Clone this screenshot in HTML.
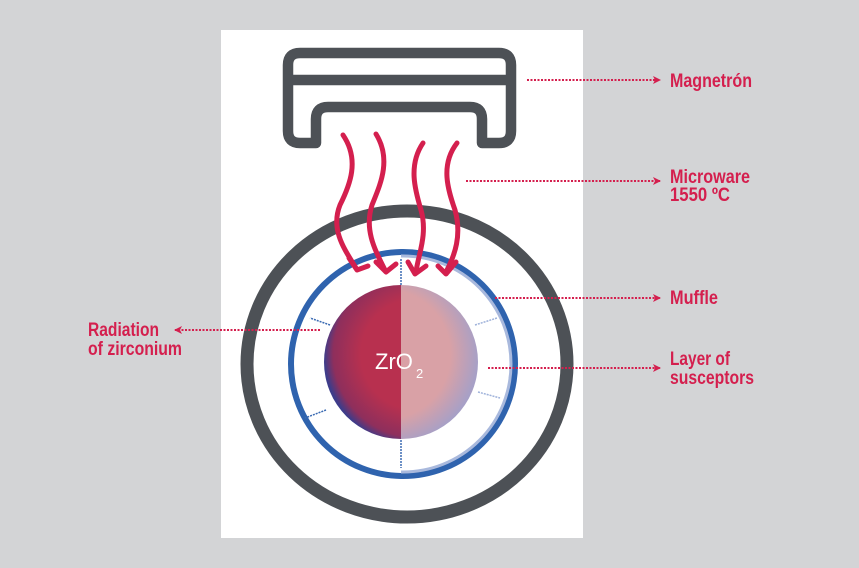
<!DOCTYPE html>
<html><head><meta charset="utf-8"><style>
html,body{margin:0;padding:0;background:#d3d4d6;}
svg{display:block}
text{font-family:"Liberation Sans Narrow","Liberation Sans",sans-serif;fill:#d41f4e;font-size:19px;font-weight:bold}
</style></head><body>
<svg width="859" height="568" viewBox="0 0 859 568" xmlns="http://www.w3.org/2000/svg">
<defs>
<radialGradient id="gl" cx="0.6" cy="0.45" r="0.6">
<stop offset="0.6" stop-color="#b8304f"/><stop offset="0.9" stop-color="#8e2f5c"/><stop offset="1" stop-color="#3d3c8a"/>
</radialGradient>
<radialGradient id="gr" cx="0.4" cy="0.45" r="0.6">
<stop offset="0.7" stop-color="#d9a1a6"/><stop offset="1" stop-color="#a7a0c6"/>
</radialGradient>
<clipPath id="cl"><rect x="0" y="0" width="401" height="568"/></clipPath>
<clipPath id="cr"><rect x="401" y="0" width="458" height="568"/></clipPath>
<marker id="ah" markerWidth="8" markerHeight="8" refX="7" refY="4" orient="auto" markerUnits="userSpaceOnUse"><path d="M0,0 L8,4 L0,8 L2,4 Z" fill="#d41f4e"/></marker>
</defs>
<rect x="221" y="30" width="362" height="508" fill="#fff"/>
<g fill="none" stroke="#4d5156" stroke-width="10.5">
<path d="M316,143 L300,143 Q288,143 288,131 L288,65 Q288,53 300,53 L499,53 Q511,53 511,65 L511,131 Q511,143 499,143 L482,143 L482,119 Q482,107 470,107 L328,107 Q316,107 316,119 Z" stroke-linejoin="round"/>
<line x1="288" y1="80" x2="511" y2="80"/>
</g>
<ellipse cx="407" cy="364" rx="160" ry="153" fill="none" stroke="#4d5156" stroke-width="13"/>
<circle cx="403" cy="364" r="112" fill="none" stroke="#2f63ae" stroke-width="6" clip-path="url(#cl)"/>
<circle cx="403" cy="364" r="112" fill="none" stroke="#2f63ae" stroke-width="6" clip-path="url(#cr)"/>
<circle cx="403" cy="364" r="108" fill="none" stroke="#a9b9dd" stroke-width="3" clip-path="url(#cr)"/>
<circle cx="401" cy="362" r="77" fill="url(#gl)" clip-path="url(#cl)"/>
<circle cx="401" cy="362" r="77" fill="url(#gr)" clip-path="url(#cr)"/>
<text x="375" y="369" style="fill:#fff;font-family:'Liberation Sans',sans-serif;font-size:22px;font-weight:normal">ZrO</text>
<text x="416" y="378" style="fill:#fff;font-family:'Liberation Sans',sans-serif;font-size:13px;font-weight:normal">2</text>
<g stroke="#3b6bb3" stroke-width="1.5" fill="none" stroke-dasharray="2,1">
<path d="M330,325 L310,318"/><path d="M326,410 L305,418"/>
<path d="M401,440 L401,468"/><path d="M401,285 L401,258"/>
<path d="M475,325 L497,318" stroke="#9fb2da"/><path d="M478,392 L500,398" stroke="#9fb2da"/>
</g>
<g fill="none" stroke="#d41f4e" stroke-width="5" stroke-linecap="round" stroke-linejoin="round">
<path d="M343,135 C360,160 350,185 340,205 C330,230 345,250 356,268"/>
<path d="M376,134 C392,160 380,185 372,205 C364,230 375,250 385,270"/>
<path d="M423,143 C408,165 415,190 421,210 C428,235 418,255 416,272"/>
<path d="M457,143 C440,165 448,190 455,210 C462,235 455,255 446,272"/>
<path d="M349,258 L357,270 L368,266"/>
<path d="M376,262 L386,272 L396,264"/>
<path d="M408,262 L415,274 L426,266"/>
<path d="M438,266 L446,274 L456,262"/>
</g>
<g stroke="#d41f4e" stroke-width="2" stroke-dasharray="2,1.5" fill="none">
<line x1="527" y1="80" x2="660" y2="80" marker-end="url(#ah)"/>
<line x1="466" y1="181" x2="660" y2="181" marker-end="url(#ah)"/>
<line x1="495" y1="298" x2="660" y2="298" marker-end="url(#ah)"/>
<line x1="488" y1="368" x2="660" y2="368" marker-end="url(#ah)"/>
<line x1="320" y1="330" x2="175" y2="330" marker-end="url(#ah)"/>
</g>
<text x="670" y="87" textLength="82" lengthAdjust="spacingAndGlyphs">Magnetrón</text>
<text x="670" y="183" textLength="80" lengthAdjust="spacingAndGlyphs">Microware</text>
<text x="670" y="201" textLength="60" lengthAdjust="spacingAndGlyphs">1550 ºC</text>
<text x="670" y="304" textLength="48" lengthAdjust="spacingAndGlyphs">Muffle</text>
<text x="670" y="365" textLength="60" lengthAdjust="spacingAndGlyphs">Layer of</text>
<text x="670" y="384" textLength="84" lengthAdjust="spacingAndGlyphs">susceptors</text>
<text x="88" y="336" textLength="71" lengthAdjust="spacingAndGlyphs">Radiation</text>
<text x="88" y="355" textLength="94" lengthAdjust="spacingAndGlyphs">of zirconium</text>
</svg>
</body></html>
